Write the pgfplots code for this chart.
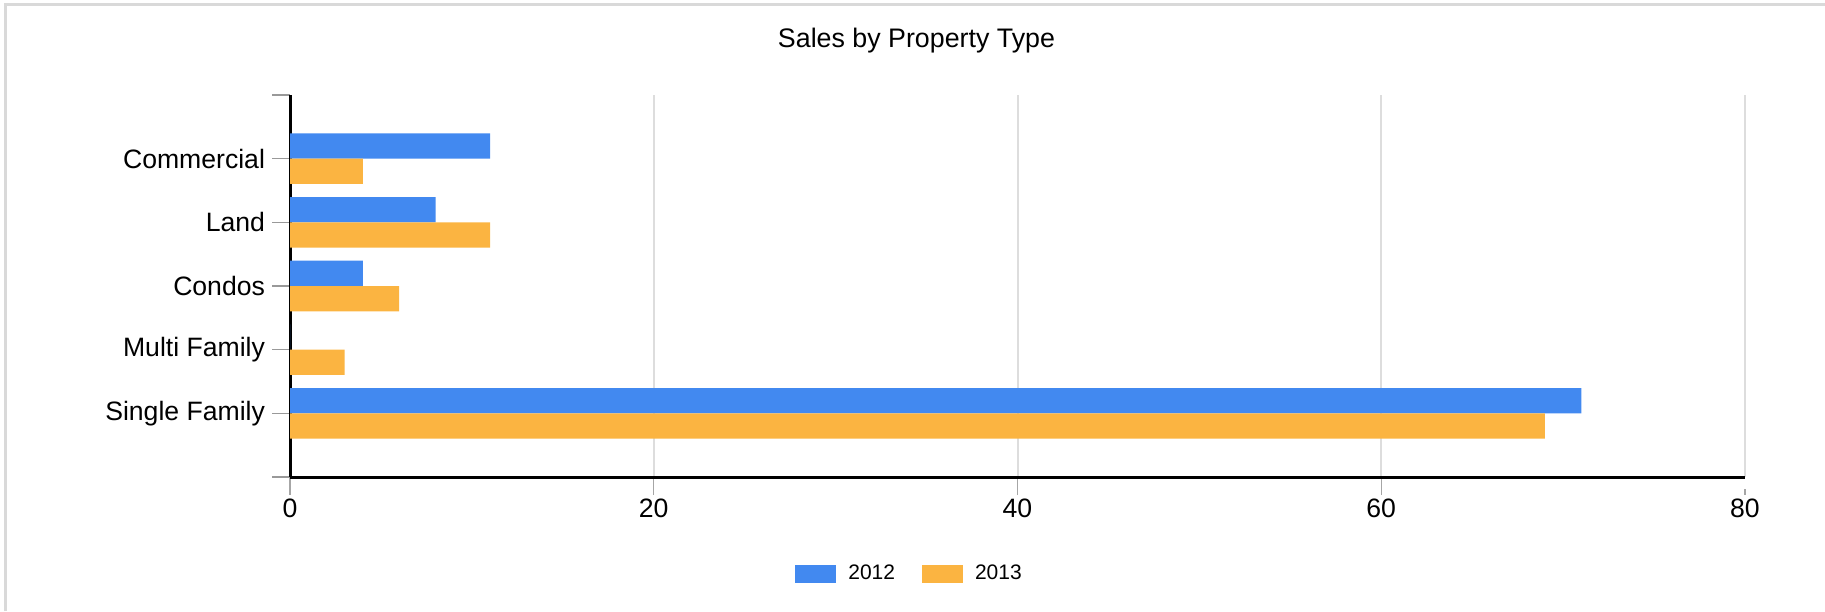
\documentclass[border=0pt]{standalone}
\usepackage{fontspec}
\setmainfont{Liberation Sans}
\usepackage{pgfplots}
\pgfplotsset{compat=1.18}
\definecolor{gblue}{HTML}{4289F0}
\definecolor{gorange}{HTML}{FBB441}
\definecolor{gridgray}{HTML}{DDDDDD}
\definecolor{bordergray}{HTML}{D9D9D9}
\begin{document}
\begin{tikzpicture}
\useasboundingbox (0,0) rectangle (912.5pt,305.5pt);
\draw[bordergray, line width=1.5pt] (2.75pt,0) -- (2.75pt,303pt) -- (912.5pt,303pt);
\begin{axis}[
  at={(145pt,67pt)}, anchor=south west,
  scale only axis, width=727.5pt, height=191pt,
  xbar, bar width=12.65pt,
  xmin=0, xmax=80, ymin=-1, ymax=5,
  xtick={0,20,40,60,80},
  ytick={-1,0,1,2,3,4,5},
  yticklabels={,Single Family,Multi Family,Condos,Land,Commercial,},
  axis x line*=bottom, axis y line*=left,
  axis line style={black, line width=1.5pt},
  xmajorgrids, grid style={gridgray, line width=1pt},
  tick align=outside,
  major tick length=9pt,
  y tick style={gray!80, line width=0.6pt},
  x tick style={gray!70, line width=0.6pt, shorten >=6pt},
  ticklabel style={font=\fontsize{13.3}{15}\selectfont},
  /pgf/number format/assume math mode=true,
  yticklabel style={xshift=0pt},
  xticklabel style={yshift=1.8pt},
  legend columns=2,
  legend style={at={(axis description cs:0.4265,-0.254)}, anchor=center, draw=none, font=\fontsize{10.5}{12}\selectfont,
    /tikz/every odd column/.append style={column sep=4pt},
    /tikz/every even column/.append style={column sep=11.5pt}},
  legend image code/.code={\fill[#1] (0pt,-4.5pt) rectangle (20.5pt,4.5pt);},
]
\addplot[fill=gblue, draw=none, bar shift=6.33pt] coordinates {(71,0) (0,1) (4,2) (8,3) (11,4)};
\addlegendentry{2012}
\addplot[fill=gorange, draw=none, bar shift=-6.33pt] coordinates {(69,0) (3,1) (6,2) (11,3) (4,4)};
\addlegendentry{2013}
\end{axis}
\node[anchor=base, font=\fontsize{13.4}{15}\selectfont] at (458.25pt,281.5pt) {Sales by Property Type};
\end{tikzpicture}
\end{document}
